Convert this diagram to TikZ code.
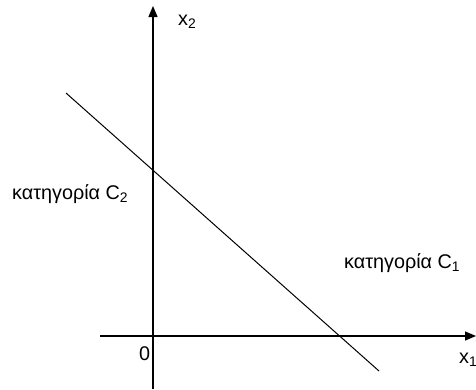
\documentclass[tikz,border=0pt]{standalone}
\usepackage{fontspec}
\setmainfont{Liberation Sans}
\usetikzlibrary{arrows.meta}
\begin{document}
\begin{tikzpicture}[x=1pt,y=-1pt,
		axis/.style={line width=1.3pt,-{Triangle[length=11pt,width=9pt]}},
		lbl/.style={font=\fontsize{19.8}{23}\selectfont,inner sep=0pt,anchor=base west}]
	
	\useasboundingbox (0,0) rectangle (476,389);
	
	% axes
	\coordinate (xs) at (100,336);
	\coordinate (xe) at (476,336);
	\coordinate (ys) at (153,389);
	\coordinate (ye) at (153,6);
	\draw[axis] (xs) -- (xe);
	\draw[axis] (ys) -- (ye);
	\node[lbl] (x1) at (459,363) {x\textsubscript{1}};
	\node[lbl] (x2) at (178,25) {x\textsubscript{2}};
	\node[lbl] (o) at (139,360) {0};
	
	% decision boundary
	\coordinate (la) at (66,93);
	\coordinate (lb) at (379,371);
	\draw[line width=1pt] (la) -- (lb);
	
	% classes
	\node[lbl] (c2) at (12,199) {κατηγορία C\textsubscript{2}};
	\node[lbl] (c1) at (344,268) {κατηγορία C\textsubscript{1}};
	
\end{tikzpicture}
\end{document}
